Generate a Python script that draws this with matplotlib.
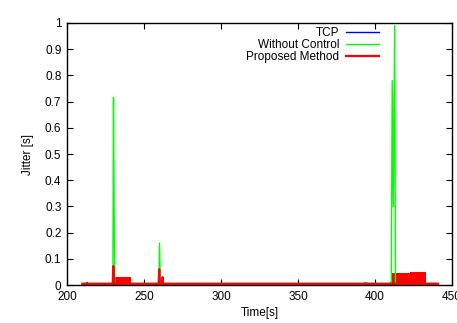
import numpy as np
import matplotlib
matplotlib.use('Agg')
import matplotlib.pyplot as plt

plt.rcParams['font.family'] = ['Liberation Sans', 'DejaVu Sans']

# TCP (blue) - mostly hidden under the red trace
tcp_t = [210, 212.5, 213, 213.5, 215, 392, 393.2, 394.8, 395.5, 410, 410.6, 411.2, 440]
tcp_v = [0.003, 0.003, 0.010, 0.003, 0.003, 0.003, 0.007, 0.007, 0.003, 0.003, 0.012, 0.003, 0.003]

# Without Control (green)
woc_t = [210, 229.8, 230.2, 230.6, 231.0, 259.6, 260.1, 260.6, 261.0,
         410.6, 411.2, 411.9, 412.8, 413.3, 440]
woc_v = [0.003, 0.003, 0.715, 0.30, 0.003, 0.003, 0.16, 0.003, 0.003,
         0.003, 0.78, 0.30, 0.99, 0.003, 0.003]

# Proposed Method (red) - sparse trace
pm_t = [210, 229.7, 230.1, 230.5, 259.5, 259.9, 260.3, 261.8, 262.1, 262.4, 441]
pm_v = [0.005, 0.005, 0.072, 0.005, 0.005, 0.060, 0.005, 0.005, 0.030, 0.005, 0.005]

# Proposed Method - dense jitter regions (look filled)
blk_start = [230.5, 410.5, 423.0]
blk_end = [241.5, 423.0, 433.0]
blk_height = [0.030, 0.045, 0.050]

fig = plt.figure(figsize=(4.57, 3.23), dpi=100)
ax = fig.add_axes([0.1466, 0.1176, 0.8424, 0.8112])

ax.plot(tcp_t, tcp_v, color='blue', lw=1, label='TCP')
ax.plot(woc_t, woc_v, color='#00ff00', lw=1, label='Without Control')
ax.plot(pm_t, pm_v, color='red', lw=1.6, label='Proposed Method')
for s, e, h in zip(blk_start, blk_end, blk_height):
    ax.bar(s, h, width=e - s, align='edge', color='red', lw=0)

ax.set_xlim(200, 450)
ax.set_ylim(0, 1)
ax.set_xticks(np.arange(200, 451, 50))
ax.set_yticks(np.arange(0, 1.01, 0.1))
ax.set_yticklabels(['0', '0.1', '0.2', '0.3', '0.4', '0.5', '0.6', '0.7', '0.8', '0.9', '1'])
ax.tick_params(direction='in', length=4, width=0.8, top=True, right=True, labelsize=8.5, pad=4)
for sp in ax.spines.values():
    sp.set_linewidth(1)
ax.set_xlabel('Time[s]', fontsize=8.5, labelpad=3)
ax.set_ylabel('Jitter [s]', fontsize=8.5, labelpad=8)

leg = ax.legend(loc='upper right', bbox_to_anchor=(0.83, 1.01), frameon=False, markerfirst=False,
                fontsize=8.5, handlelength=2.8, handletextpad=0.6, labelspacing=0.0, borderaxespad=0.2)
for t in leg.get_texts():
    t.set_ha('right')

fig.savefig('out.png', dpi=100)
